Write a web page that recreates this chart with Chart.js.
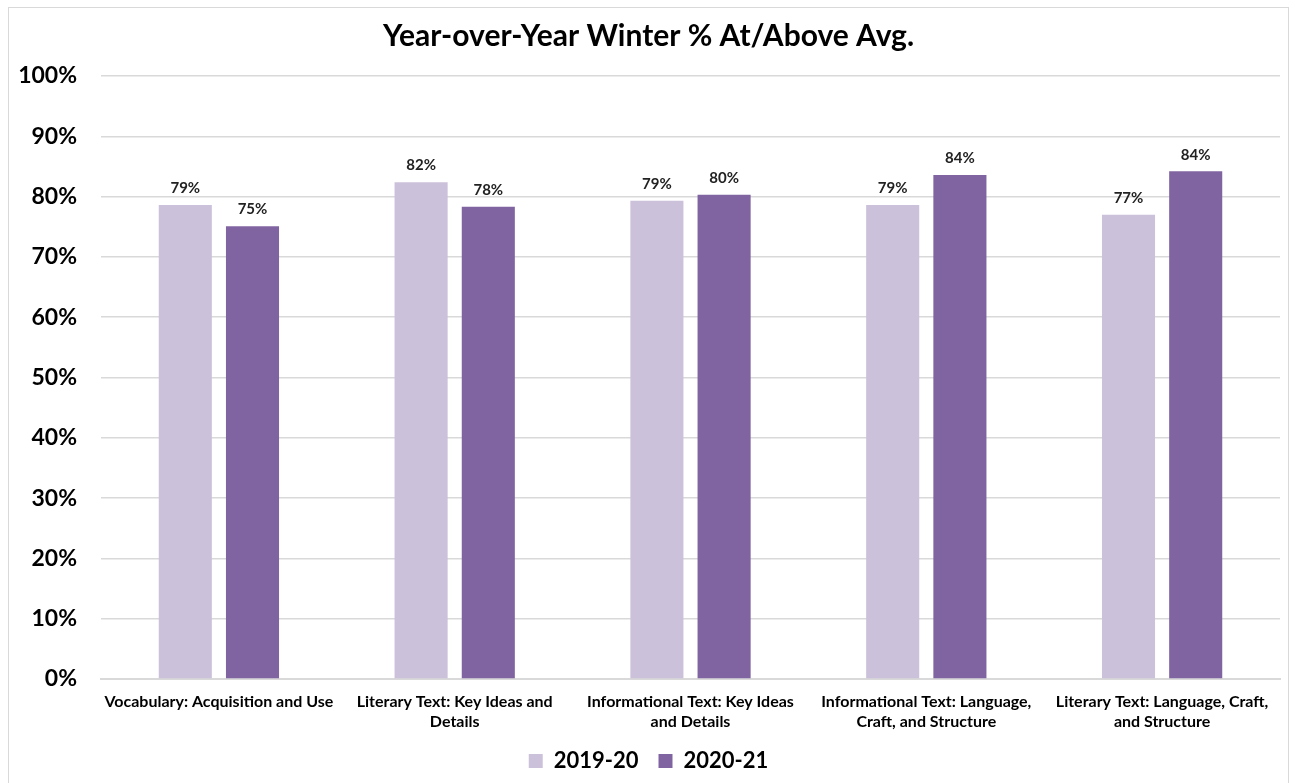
<!DOCTYPE html>
<html>
<head>
<meta charset="utf-8">
<script src="https://cdn.jsdelivr.net/npm/chart.js@4.4.0/dist/chart.umd.min.js"></script>
<style>
  body { margin: 0; background: #fff; overflow: hidden; }
  #frame { position: absolute; left: 8px; top: 7px; width: 1281px; height: 800px; border: 1px solid #d9d9d9; box-sizing: border-box; }
  #wrap { position: absolute; left: 0; top: 0; width: 1297px; height: 783px; }
</style>
</head>
<body>
<div id="frame"></div>
<div id="wrap"><canvas id="my_graph"></canvas></div>
<script>
// chart values
const categories = [
    ['Vocabulary: Acquisition and Use'],
    ['Literary Text: Key Ideas and', 'Details'],
    ['Informational Text: Key Ideas', 'and Details'],
    ['Informational Text: Language,', 'Craft, and Structure'],
    ['Literary Text: Language, Craft,', 'and Structure']
];
const series_names = ['2019-20', '2020-21'];
const values_2019 = [78.6, 82.4, 79.3, 78.6, 77.0];
const values_2020 = [75.1, 78.3, 80.3, 83.6, 84.2];
const y_ticks = [0, 10, 20, 30, 40, 50, 60, 70, 80, 90, 100];
const colors = ['#ccc1da', '#8064a2'];
const font_family = 'Lato, "Open Sans", sans-serif';

// draws the rounded % above each bar
const bar_labels = {
    id: 'bar_labels',
    afterDatasetsDraw(chart) {
        const ctx = chart.ctx;
        ctx.save();
        ctx.font = 'bold 15px ' + font_family;
        ctx.fillStyle = '#222';
        ctx.textAlign = 'center';
        ctx.textBaseline = 'bottom';
        chart.data.datasets.forEach((dataset, i) => {
            chart.getDatasetMeta(i).data.forEach((bar, j) => {
                ctx.fillText(Math.round(dataset.data[j]) + '%', bar.x, bar.y - 9);
            });
        });
        ctx.restore();
    }
};

var ctx = document.getElementById('my_graph').getContext('2d');
var my_graph = new Chart(ctx, {
    type: 'bar',
    data: {
        labels: categories,
        datasets: [
            {
                label: series_names[0],
                data: values_2019,
                backgroundColor: colors[0],
                categoryPercentage: 0.57,
                barPercentage: 0.79
            },
            {
                label: series_names[1],
                data: values_2020,
                backgroundColor: colors[1],
                categoryPercentage: 0.57,
                barPercentage: 0.79
            }
        ]
    },
    options: {
        responsive: true,
        maintainAspectRatio: false,
        animation: false,
        layout: {
            padding: { left: 17, right: 17, top: 4, bottom: 1 }
        },
        plugins: {
            title: {
                display: true,
                text: 'Year-over-Year Winter % At/Above Avg.',
                color: '#000',
                font: { family: font_family, size: 30, weight: 'bold', lineHeight: 1.2 },
                padding: { top: 14, bottom: 22 }
            },
            legend: {
                display: true,
                position: 'bottom',
                labels: {
                    color: '#000',
                    boxWidth: 14,
                    boxHeight: 14,
                    padding: 20,
                    font: { family: font_family, size: 22, weight: 'bold' }
                }
            },
            tooltip: { enabled: false }
        },
        scales: {
            x: {
                grid: { display: false, drawTicks: false },
                border: { color: '#d9d9d9', width: 2 },
                afterFit: (scale) => { scale.height = 51; },
                ticks: {
                    color: '#000',
                    maxRotation: 0,
                    autoSkip: false,
                    padding: 13,
                    font: { family: font_family, size: 16, weight: 'bold', lineHeight: 1.25 }
                }
            },
            y: {
                min: 0,
                max: 100,
                afterBuildTicks: (axis) => { axis.ticks = y_ticks.map(v => ({ value: v })); },
                afterFit: (scale) => { scale.width = 84; },
                grid: { color: '#d9d9d9', lineWidth: 1.5, drawTicks: false },
                border: { display: false },
                ticks: {
                    color: '#000',
                    padding: 24,
                    font: { family: font_family, size: 23, weight: 'bold' },
                    callback: (v) => v + '%'
                }
            }
        }
    },
    plugins: [bar_labels]
});
</script>
</body>
</html>
